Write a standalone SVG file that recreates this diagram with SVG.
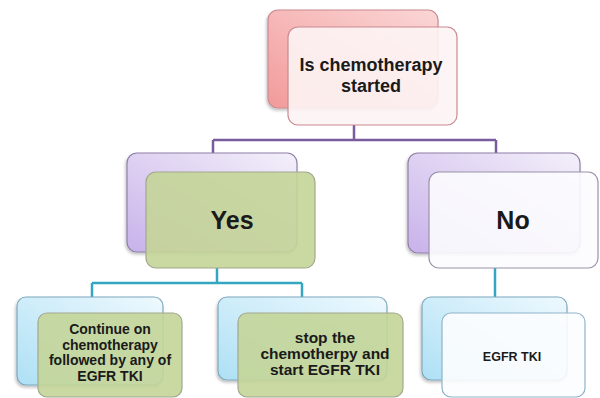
<svg xmlns="http://www.w3.org/2000/svg" width="600" height="398" viewBox="0 0 600 398">
<defs>
<linearGradient id="gPink" x1="1" y1="0" x2="0" y2="1"><stop offset="0" stop-color="#fbd6d6"/><stop offset="1" stop-color="#f29a9a"/></linearGradient>
<linearGradient id="gLav" x1="1" y1="0" x2="0" y2="1"><stop offset="0" stop-color="#f4f0fa"/><stop offset="1" stop-color="#c8b2ea"/></linearGradient>
<linearGradient id="gBlue" x1="1" y1="0" x2="0" y2="1"><stop offset="0" stop-color="#eef9fe"/><stop offset="1" stop-color="#aee0f5"/></linearGradient>
<filter id="sh" x="-10%" y="-10%" width="120%" height="125%"><feDropShadow dx="-1" dy="2" stdDeviation="1.5" flood-color="#000" flood-opacity="0.25"/></filter>
</defs>
<style>
.back{stroke-width:1.2;filter:url(#sh)}
.front{stroke-width:1.2;fill-opacity:0.9}
.pinkB{fill:url(#gPink);stroke:#c98a90}
.pinkF{fill:#fdf4f4;stroke:#c98a90}
.lavB{fill:url(#gLav);stroke:#8f80a8}
.blueB{fill:url(#gBlue);stroke:#7fa8bd}
.green{fill:#c4d598;stroke:#a2a88e}
.whiteP{fill:#fcfcfe;stroke:#9a92a8}
.whiteB{fill:#fcfdfe;stroke:#8fb4c8}
.t{font-family:"Liberation Sans",Arial,sans-serif;font-weight:bold;fill:#1a1a1a;text-anchor:middle}
.conn{fill:none;stroke-width:2.5}
</style>
<g id="connectors">
<path class="conn" stroke="#7a5c9e" d="M354 125V140M213 140H496M213 140V153M496 140V153"/>
<path class="conn" stroke="#35a6c2" d="M217 268V283M92 283H302M92 283V297M302 283V297M495 268V297"/>
</g>
<g id="n-start">
<rect class="back pinkB" x="268" y="10" width="170" height="98" rx="10"/>
<rect class="front pinkF" x="288" y="27" width="169" height="98" rx="10"/>
<text class="t" x="371" y="71" font-size="18">Is chemotherapy</text>
<text class="t" x="371" y="92" font-size="18">started</text>
</g>
<g id="n-yes">
<rect class="back lavB" x="127" y="153" width="170" height="99" rx="10"/>
<rect class="front green" x="146" y="172" width="169" height="96" rx="10"/>
<text class="t" x="232" y="229" font-size="25">Yes</text>
</g>
<g id="n-no">
<rect class="back lavB" x="408" y="153" width="172" height="100" rx="10"/>
<rect class="front whiteP" x="429" y="172" width="169" height="96" rx="10"/>
<text class="t" x="513" y="229" font-size="25">No</text>
</g>
<g id="n-continue">
<rect class="back blueB" x="17" y="297" width="146" height="88" rx="9"/>
<rect class="front green" x="38" y="313" width="144" height="84" rx="9"/>
<text class="t" x="110" y="334" font-size="14">Continue on</text>
<text class="t" x="110" y="349.5" font-size="14">chemotherapy</text>
<text class="t" x="110" y="365" font-size="14">followed by any of</text>
<text class="t" x="110" y="380.5" font-size="14">EGFR TKI</text>
</g>
<g id="n-stop">
<rect class="back blueB" x="218" y="297" width="169" height="83" rx="9"/>
<rect class="front green" x="238" y="313" width="165" height="84" rx="9"/>
<text class="t" x="325" y="343" font-size="15.5">stop the</text>
<text class="t" x="325" y="359" font-size="15.5">chemotherpy and</text>
<text class="t" x="325" y="375" font-size="15.5">start EGFR TKI</text>
</g>
<g id="n-egfr">
<rect class="back blueB" x="422" y="297" width="145" height="83" rx="9"/>
<rect class="front whiteB" x="442" y="313" width="143" height="84" rx="9"/>
<text class="t" x="512" y="361" font-size="12.5">EGFR TKI</text>
</g>
</svg>
